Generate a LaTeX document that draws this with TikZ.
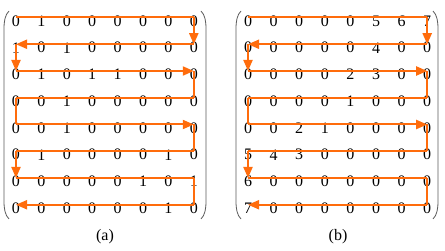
\documentclass[tikz,border=0pt]{standalone}
\usepackage{fontspec}
\setmainfont{Liberation Serif}
\usetikzlibrary{arrows.meta}
\definecolor{snakeorange}{RGB}{255,108,12}
\definecolor{brackgray}{RGB}{90,90,90}
\tikzset{
  digit/.style={inner sep=0pt, font=\fontsize{16}{16}\selectfont},
  caption/.style={inner sep=0pt, font=\fontsize{16}{16}\selectfont},
  snakeline/.style={draw=snakeorange, line width=2pt},
  snakearrow/.style={snakeline, -{Triangle[length=11pt,width=9pt]}},
  brack/.style={draw=brackgray, line width=0.8pt}
}
\newcommand\snakepath[1]{%
  \draw[snakeline]  ([yshift=3.5pt]#1-1-1.center) -- ([yshift=3.5pt]#1-1-8.center);
  \draw[snakearrow] ([yshift=3.5pt]#1-1-8.center) -- ([yshift=3.5pt]#1-2-8.center);
  \draw[snakearrow] ([yshift=3.5pt]#1-2-8.center) -- ([yshift=3.5pt]#1-2-1.center);
  \draw[snakearrow] ([yshift=3.5pt]#1-2-1.center) -- ([yshift=3.5pt]#1-3-1.center);
  \draw[snakearrow] ([yshift=3.5pt]#1-3-1.center) -- ([yshift=3.5pt]#1-3-8.center);
  \draw[snakeline]  ([yshift=3.5pt]#1-3-8.center) -- ([yshift=3.5pt]#1-4-8.center);
  \draw[snakeline]  ([yshift=3.5pt]#1-4-8.center) -- ([yshift=3.5pt]#1-4-1.center);
  \draw[snakeline]  ([yshift=3.5pt]#1-4-1.center) -- ([yshift=3.5pt]#1-5-1.center);
  \draw[snakearrow] ([yshift=3.5pt]#1-5-1.center) -- ([yshift=3.5pt]#1-5-8.center);
  \draw[snakeline]  ([yshift=3.5pt]#1-5-8.center) -- ([yshift=3.5pt]#1-6-8.center);
  \draw[snakeline]  ([yshift=3.5pt]#1-6-8.center) -- ([yshift=3.5pt]#1-6-1.center);
  \draw[snakearrow] ([yshift=3.5pt]#1-6-1.center) -- ([yshift=3.5pt]#1-7-1.center);
  \draw[snakeline]  ([yshift=3.5pt]#1-7-1.center) -- ([yshift=3.5pt]#1-7-8.center);
  \draw[snakeline]  ([yshift=3.5pt]#1-7-8.center) -- ([yshift=3.5pt]#1-8-8.center);
  \draw[snakearrow] ([yshift=3.5pt]#1-8-8.center) -- ([yshift=3.5pt]#1-8-1.center);
}
\begin{document}
\begin{tikzpicture}[x=1pt,y=-1pt]
\useasboundingbox (0,0) rectangle (445,251);
% matrix (a)
\foreach \vals [count=\r] in {
  {0,1,0,0,0,0,0,0},{1,0,1,0,0,0,0,0},{0,1,0,1,1,0,0,0},{0,0,1,0,0,0,0,0},
  {0,0,1,0,0,0,0,0},{0,1,0,0,0,0,1,0},{0,0,0,0,0,1,0,1},{0,0,0,0,0,0,1,0}}{
  \foreach \v [count=\c] in \vals {
    \node[digit] (a-\r-\c) at ({16+25.4*(\c-1)},{21+26.75*(\r-1)}) {\v};
  }
}
% matrix (b)
\foreach \vals [count=\r] in {
  {0,0,0,0,0,5,6,7},{0,0,0,0,0,4,0,0},{0,0,0,0,2,3,0,0},{0,0,0,0,1,0,0,0},
  {0,0,2,1,0,0,0,0},{5,4,3,0,0,0,0,0},{6,0,0,0,0,0,0,0},{7,0,0,0,0,0,0,0}}{
  \foreach \v [count=\c] in \vals {
    \node[digit] (b-\r-\c) at ({248+25.6*(\c-1)},{21+26.75*(\r-1)}) {\v};
  }
}
\snakepath{a}
\snakepath{b}
% brackets
\draw[brack] (9,11) .. controls (5,15) and (4,21) .. (4,29) -- (4,201) .. controls (4,209) and (5,215) .. (9,219);
\draw[brack] (201,11) .. controls (205,15) and (206,21) .. (206,29) -- (206,201) .. controls (206,209) and (205,215) .. (201,219);
\draw[brack] (241,11) .. controls (237,15) and (236,21) .. (236,29) -- (236,201) .. controls (236,209) and (237,215) .. (241,219);
\draw[brack] (433,11) .. controls (437,15) and (438,21) .. (438,29) -- (438,201) .. controls (438,209) and (437,215) .. (433,219);
% captions
\node[caption] (capa) at (105,237) {(a)};
\node[caption] (capb) at (338,237) {(b)};
\end{tikzpicture}
\end{document}
